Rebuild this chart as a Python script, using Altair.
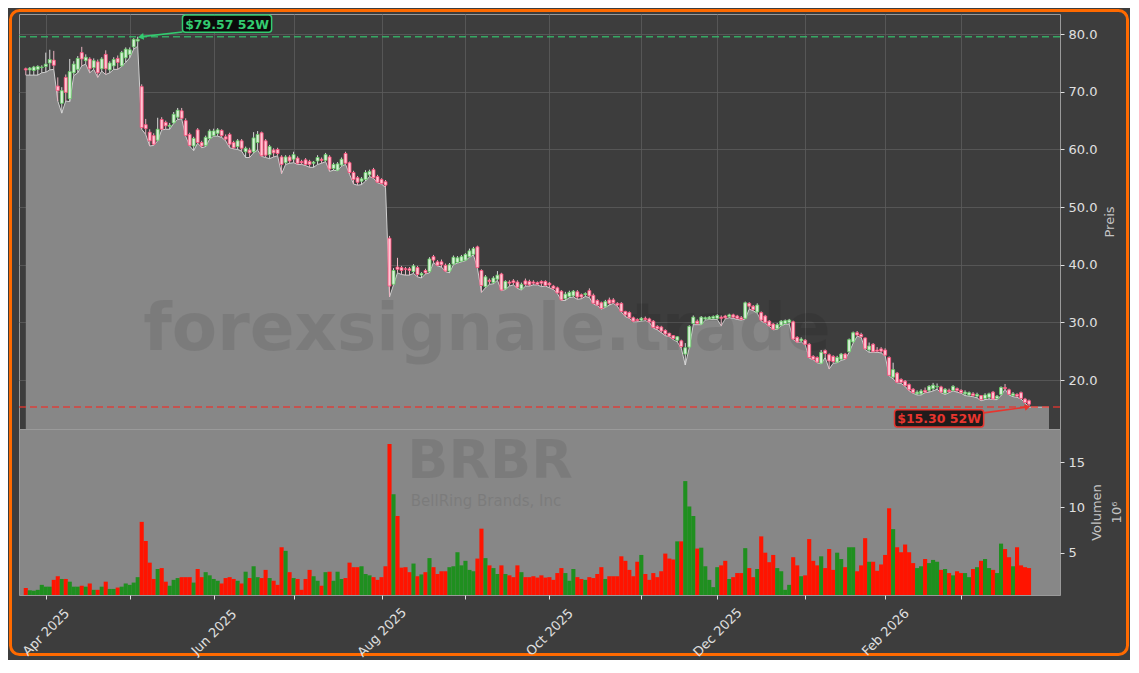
import altair as alt
import pandas as pd

# ---------------- data ----------------
# bar index = trading day, 0 = 1 Apr 2025; first bar is 5 trading days earlier
first_bar = -5

open_ = [
    74.0, 73.8, 73.7, 73.9, 74.2, 74.4, 75.0, 75.5, 71.0, 68.0,
    72.5, 68.8, 73.3, 73.9, 76.8, 75.4, 75.7, 74.2, 75.2, 74.0,
    76.5, 73.8, 74.5, 75.8, 74.5, 75.9, 76.5, 77.8, 78.8, 70.9,
    64.3, 63.0, 62.4, 61.6, 65.2, 64.7, 64.0, 64.6, 65.6, 66.7,
    65.0, 62.6, 60.6, 63.4, 61.2, 60.7, 61.9, 62.4, 62.8, 63.3,
    62.2, 62.6, 61.2, 60.5, 61.5, 59.6, 59.9, 59.6, 61.2, 62.9,
    61.5, 59.1, 59.9, 60.0, 58.7, 57.7, 58.7, 58.3, 58.5, 57.9,
    58.2, 57.9, 57.6, 58.0, 58.3, 58.1, 58.7, 56.7, 56.4, 57.3,
    59.3, 57.7, 56.0, 55.1, 54.5, 54.8, 55.6, 56.5, 55.3, 54.8,
    54.4, 44.6, 36.6, 39.6, 39.5, 39.3, 39.3, 38.8, 39.5, 38.2,
    39.0, 38.8, 41.4, 40.5, 40.5, 39.9, 38.9, 40.1, 40.4, 40.6,
    40.8, 41.4, 41.8, 43.1, 39.0, 36.2, 37.3, 36.9, 37.5, 38.4,
    35.8, 37.0, 37.2, 37.0, 35.8, 37.2, 37.1, 37.0, 36.9, 37.1,
    37.1, 36.8, 36.3, 36.0, 35.4, 34.1, 34.5, 34.6, 35.3, 34.8,
    34.8, 35.5, 34.7, 33.8, 33.4, 32.7, 33.9, 33.9, 33.3, 33.3,
    31.9, 31.7, 30.8, 30.5, 30.4, 30.7, 30.6, 30.2, 29.3, 29.2,
    28.6, 28.1, 27.7, 26.9, 26.8, 24.5, 25.7, 29.8, 30.2, 29.7,
    30.6, 30.6, 30.7, 30.7, 30.9, 31.1, 31.0, 31.3, 31.1, 30.8,
    30.7, 33.3, 32.8, 31.8, 31.7, 31.1, 30.2, 29.7, 28.9, 29.5,
    29.8, 30.0, 30.1, 27.4, 26.8, 26.9, 26.2, 24.1, 23.9, 22.9,
    25.1, 24.4, 24.1, 23.1, 23.6, 24.5, 24.9, 26.6, 28.2, 27.9,
    27.3, 25.2, 26.2, 25.2, 25.4, 25.2, 23.9, 20.5, 21.2, 20.1,
    19.8, 19.2, 18.4, 17.6, 17.6, 18.2, 18.2, 18.5, 18.8, 18.8,
    17.7, 18.2, 18.2, 18.5, 18.2, 17.6, 17.4, 17.6, 17.2, 17.3,
    16.8, 17.0, 17.9, 16.8, 17.5, 18.7, 18.3, 17.3, 17.5, 17.8,
    16.7, 16.4,
]

high = [
    74.2, 74.3, 74.5, 74.6, 74.6, 76.8, 77.3, 77.1, 72.5, 70.8,
    73.0, 75.7, 75.3, 76.2, 77.8, 76.5, 76.0, 75.8, 75.6, 76.0,
    77.2, 75.3, 76.0, 76.3, 77.1, 77.7, 77.7, 79.3, 79.57, 71.3,
    65.3, 63.5, 62.8, 65.5, 65.6, 65.0, 64.6, 66.5, 67.2, 67.2,
    65.4, 62.9, 62.2, 63.7, 61.5, 62.4, 63.5, 63.6, 63.7, 63.5,
    62.6, 62.9, 61.5, 61.8, 61.8, 60.5, 60.3, 63.0, 63.2, 63.1,
    61.8, 60.8, 60.2, 60.3, 59.0, 59.0, 59.0, 59.6, 58.8, 58.2,
    58.5, 58.2, 58.0, 59.0, 58.6, 59.4, 59.0, 57.7, 57.8, 58.6,
    59.6, 57.9, 56.3, 55.4, 55.2, 56.4, 56.5, 56.8, 55.6, 55.0,
    54.7, 45.0, 39.4, 41.2, 39.8, 39.6, 39.6, 40.1, 39.8, 38.7,
    39.3, 41.3, 41.7, 40.8, 40.9, 40.2, 40.3, 41.6, 41.5, 41.7,
    42.0, 42.8, 43.1, 43.3, 39.2, 38.2, 37.6, 38.0, 38.9, 38.6,
    37.3, 37.3, 37.5, 37.3, 36.9, 37.6, 37.4, 37.3, 37.1, 37.3,
    37.3, 37.0, 36.5, 36.2, 35.6, 35.3, 35.5, 35.6, 35.6, 35.0,
    35.2, 35.9, 35.0, 34.0, 33.6, 33.9, 34.3, 34.2, 33.5, 33.5,
    32.0, 31.9, 31.0, 30.7, 30.9, 31.0, 30.8, 30.4, 29.5, 29.4,
    28.8, 28.2, 27.8, 27.6, 27.0, 26.4, 29.5, 31.2, 30.5, 31.1,
    31.0, 31.1, 31.2, 31.4, 31.2, 31.3, 31.5, 31.5, 31.3, 31.1,
    33.6, 33.5, 33.0, 33.3, 31.9, 31.3, 30.4, 29.9, 29.9, 30.4,
    30.5, 30.6, 30.3, 27.6, 27.4, 27.1, 26.4, 24.3, 24.1, 25.2,
    25.3, 24.6, 24.3, 24.2, 24.7, 24.7, 27.2, 28.4, 28.5, 28.2,
    27.4, 26.5, 26.4, 25.7, 25.7, 25.5, 24.1, 23.0, 21.4, 20.3,
    20.0, 19.4, 18.6, 18.2, 18.4, 18.7, 19.1, 19.5, 19.4, 19.0,
    18.6, 18.5, 19.1, 18.7, 18.4, 18.2, 18.0, 17.9, 17.8, 17.4,
    17.7, 17.8, 18.1, 17.4, 18.9, 19.3, 18.5, 17.9, 17.7, 18.0,
    16.9, 16.6,
]

low = [
    72.9, 72.9, 72.9, 72.9, 73.3, 73.4, 73.8, 73.9, 68.4, 66.3,
    68.4, 68.3, 72.8, 73.3, 74.5, 74.8, 73.3, 73.9, 72.5, 73.6,
    73.0, 73.3, 73.9, 73.9, 74.4, 75.1, 75.9, 77.4, 77.9, 63.5,
    62.6, 60.6, 60.7, 61.5, 63.4, 63.5, 63.5, 64.5, 65.2, 65.3,
    62.3, 60.6, 59.8, 61.1, 60.3, 60.5, 61.8, 62.3, 62.3, 62.1,
    61.5, 60.3, 60.1, 60.0, 59.7, 58.6, 58.6, 59.4, 59.9, 58.8,
    58.6, 58.4, 58.7, 58.9, 55.8, 57.4, 57.6, 57.7, 57.4, 57.4,
    57.2, 56.9, 56.9, 57.4, 57.6, 57.9, 56.2, 56.4, 56.3, 57.1,
    57.4, 55.7, 54.0, 53.8, 53.9, 54.5, 55.3, 55.0, 54.2, 54.0,
    53.4, 34.4, 36.5, 38.6, 38.3, 38.2, 38.2, 38.5, 37.9, 37.7,
    38.4, 38.6, 40.4, 39.8, 39.6, 38.8, 38.6, 40.0, 40.3, 40.5,
    40.7, 41.3, 41.7, 39.4, 35.2, 36.0, 36.6, 36.7, 37.3, 35.5,
    35.7, 36.3, 36.5, 35.9, 35.6, 36.3, 36.3, 36.5, 36.5, 36.2,
    36.3, 36.0, 35.7, 35.0, 33.8, 33.8, 34.3, 34.4, 34.0, 34.1,
    34.5, 34.3, 33.2, 32.9, 32.3, 32.6, 33.0, 33.3, 32.8, 31.8,
    31.0, 30.7, 30.1, 30.1, 30.2, 30.3, 30.0, 29.0, 28.7, 28.2,
    27.7, 27.5, 27.0, 26.6, 25.5, 22.6, 25.6, 29.6, 29.6, 29.6,
    30.4, 30.5, 30.5, 30.5, 29.4, 30.6, 30.8, 30.7, 30.5, 30.4,
    30.6, 32.3, 32.0, 31.6, 30.2, 29.9, 29.3, 28.7, 28.8, 29.4,
    29.7, 29.7, 27.0, 26.5, 26.6, 26.1, 23.8, 23.5, 23.0, 22.8,
    23.9, 21.9, 22.9, 23.0, 23.4, 23.6, 24.8, 26.4, 27.6, 27.4,
    25.3, 24.8, 24.8, 24.8, 24.7, 24.2, 20.7, 20.2, 19.5, 19.4,
    18.9, 18.1, 17.7, 17.4, 17.4, 17.8, 17.9, 18.1, 18.4, 17.8,
    17.5, 17.8, 18.1, 17.9, 17.7, 17.3, 17.2, 17.1, 16.9, 16.4,
    16.6, 16.7, 16.6, 16.6, 17.3, 18.4, 17.4, 17.1, 17.0, 16.7,
    16.0, 15.3,
]

close = [
    73.8, 74.1, 74.3, 74.4, 74.3, 74.8, 75.6, 74.6, 70.2, 70.2,
    69.9, 73.5, 74.8, 75.8, 75.7, 76.0, 74.0, 75.4, 73.3, 75.7,
    74.0, 75.0, 75.6, 75.1, 76.8, 77.4, 77.3, 79.1, 79.1, 63.8,
    63.6, 61.5, 60.9, 63.5, 63.5, 64.1, 64.2, 66.1, 66.8, 65.4,
    62.4, 60.7, 61.9, 61.2, 60.6, 62.1, 63.2, 63.2, 63.4, 62.4,
    61.8, 60.9, 60.3, 61.5, 60.2, 60.2, 59.4, 62.0, 62.6, 58.9,
    59.0, 60.5, 59.4, 59.3, 57.4, 58.7, 58.0, 59.1, 57.6, 57.7,
    57.4, 57.4, 57.8, 58.6, 58.1, 59.1, 56.6, 57.4, 57.5, 58.3,
    57.6, 56.0, 54.8, 54.3, 54.9, 56.0, 56.2, 55.1, 54.3, 54.1,
    53.8, 36.3, 39.0, 39.2, 39.0, 39.2, 39.0, 39.8, 38.3, 38.5,
    38.6, 41.0, 40.8, 39.9, 40.0, 38.9, 40.0, 41.3, 41.2, 41.4,
    41.8, 42.4, 42.8, 39.5, 36.4, 37.9, 37.1, 37.7, 38.2, 35.6,
    37.1, 36.8, 36.9, 36.1, 36.6, 36.6, 36.5, 36.8, 36.6, 36.8,
    36.4, 36.5, 35.9, 35.1, 33.9, 34.9, 35.2, 35.4, 34.4, 34.4,
    35.0, 34.6, 33.3, 33.0, 32.4, 33.6, 33.3, 33.4, 33.0, 31.9,
    31.3, 30.8, 30.2, 30.3, 30.7, 30.5, 30.1, 29.1, 28.9, 28.5,
    28.0, 27.6, 27.2, 27.5, 25.8, 25.6, 29.3, 30.9, 29.8, 30.9,
    30.8, 30.9, 31.0, 31.2, 30.7, 30.8, 31.3, 30.9, 30.7, 30.5,
    33.4, 32.8, 32.2, 33.0, 30.4, 30.0, 29.4, 28.8, 29.6, 30.2,
    30.3, 30.4, 27.1, 26.6, 27.1, 26.2, 23.9, 23.6, 23.1, 24.8,
    24.6, 23.3, 23.2, 23.9, 24.5, 23.7, 27.0, 28.2, 27.8, 27.5,
    25.4, 25.9, 24.9, 25.0, 25.0, 24.3, 20.8, 21.8, 19.6, 19.6,
    19.0, 18.3, 17.8, 17.9, 18.1, 17.9, 18.9, 19.1, 18.9, 17.9,
    18.4, 18.0, 18.9, 18.2, 17.8, 17.9, 17.8, 17.3, 17.5, 16.6,
    17.4, 17.6, 16.7, 17.2, 18.7, 18.5, 17.5, 17.6, 17.2, 16.8,
    16.1, 15.8,
]

# volume in millions
volume_m = [
    1.1, 0.85, 0.8, 0.9, 1.45, 1.25, 1.25, 2.0, 2.4, 2.1,
    2.1, 1.8, 1.25, 1.25, 1.35, 1.25, 1.6, 0.9, 0.9, 1.25,
    1.8, 1.0, 1.0, 1.15, 1.25, 1.6, 1.45, 1.7, 2.3, 8.4,
    6.3, 3.9, 2.1, 3.2, 3.3, 1.8, 1.35, 2.0, 2.2, 2.3,
    2.3, 2.3, 1.7, 3.2, 2.3, 2.85, 2.5, 2.1, 1.9, 1.6,
    2.2, 2.3, 2.1, 1.9, 1.6, 2.9, 2.2, 3.5, 2.3, 2.2,
    3.1, 2.2, 1.9, 1.45, 5.6, 5.2, 2.85, 2.2, 2.1, 0.9,
    2.1, 3.1, 2.4, 1.9, 1.35, 2.85, 2.9, 1.9, 2.9, 2.1,
    2.2, 3.9, 3.4, 3.4, 3.5, 2.65, 2.5, 2.3, 2.0, 2.3,
    3.5, 17.0, 11.45, 9.05, 3.35, 3.4, 2.85, 3.8, 2.4, 2.6,
    2.85, 4.4, 3.4, 2.65, 2.95, 2.95, 3.4, 3.5, 5.05, 3.6,
    4.1, 3.1, 2.95, 4.35, 7.65, 4.4, 3.6, 3.3, 2.65, 3.6,
    2.65, 2.5, 2.3, 3.6, 2.85, 2.3, 2.3, 2.4, 2.25, 2.5,
    2.25, 2.3, 2.0, 2.75, 3.3, 2.75, 1.9, 3.2, 2.3, 2.1,
    2.0, 2.3, 2.2, 2.65, 3.4, 2.1, 2.4, 2.4, 2.4, 4.6,
    4.1, 3.1, 2.4, 4.0, 4.75, 2.65, 2.0, 2.75, 2.3, 2.95,
    4.9, 4.35, 4.25, 6.25, 6.25, 12.9, 10.1, 9.05, 5.45, 5.55,
    3.5, 2.0, 1.2, 3.4, 3.6, 4.1, 2.1, 2.3, 2.75, 2.75,
    5.5, 3.3, 2.3, 3.2, 6.8, 5.0, 3.95, 4.75, 3.3, 2.95,
    0.9, 1.45, 4.5, 3.6, 2.4, 2.5, 6.5, 4.1, 3.6, 4.6,
    3.3, 5.4, 3.1, 5.0, 4.3, 3.4, 5.6, 5.6, 2.95, 3.6,
    6.6, 4.0, 4.0, 3.0, 3.7, 4.75, 9.9, 7.6, 5.6, 5.05,
    5.9, 5.05, 3.85, 3.3, 3.5, 4.3, 3.85, 4.2, 4.0, 3.1,
    3.2, 2.75, 2.5, 2.95, 2.75, 2.75, 2.3, 3.2, 3.4, 4.1,
    4.3, 3.3, 3.1, 2.75, 6.0, 5.4, 4.5, 3.5, 5.6, 3.6,
    3.4, 3.3,
]

# month starts (trading-day index) and their labels
month_idx = [0, 21, 42, 62, 84, 105, 126, 149, 168, 190, 210, 229]
month_lbl = ["Apr 2025", "", "Jun 2025", "", "Aug 2025", "", "Oct 2025", "",
             "Dec 2025", "", "Feb 2026", ""]
price_ticks = [20, 30, 40, 50, 60, 70, 80]
vol_ticks = [5, 10, 15]

high_52w = 79.57
low_52w = 15.30
area_tail_k = [251]          # shaded price area continues to here

ticker = "BRBR"
company = "BellRing Brands, Inc"
watermark = "forexsignale.trade"

# ---------------- frames ----------------
n = len(close)
df = pd.DataFrame({
    "k": list(range(first_bar, first_bar + n)),
    "o": open_, "h": high, "l": low, "c": close, "v": volume_m,
})
area_df = pd.concat([df[["k", "l"]],
                     pd.DataFrame({"k": area_tail_k, "l": [low_52w] * len(area_tail_k)})],
                    ignore_index=True)

hi_k = int(df.loc[df["h"].idxmax(), "k"])
lo_k = int(df.loc[df["l"].idxmin(), "k"])

# ---------------- styling ----------------
BG = "#3d3d3d"
AREA = "#878787"
AREA_LINE = "#cfcfcf"
GRID = "#5d5d5d"
UP_FILL, UP_EDGE, UP_WICK = "#d9efd9", "#62cf62", "#d8d8d8"
DN_FILL, DN_EDGE, DN_WICK = "#ffc6d3", "#ff4a78", "#e9b3c0"
VOL_UP, VOL_DN = "#1f8f1f", "#ff1400"
HI_COL, LO_COL = "#33cc70", "#e8352e"

W = 1041
H_PRICE = 415
H_VOL = 166
Y_MIN = 11.5

xs = alt.Scale(domain=[-5.45, 252.5], nice=False, zero=False)
ys = alt.Scale(domain=[Y_MIN, 83.5], nice=False, zero=False)
vs = alt.Scale(domain=[0.33, 18.65], nice=False, zero=False)

up = alt.datum.c >= alt.datum.o

# one axis object per channel, reused by every layer so that they merge cleanly
x_price_axis = alt.Axis(values=month_idx, labels=False, ticks=False, domain=False,
                        grid=True, gridColor=GRID, gridWidth=0.8, title=None)
y_price_axis = alt.Axis(orient="right", values=price_ticks, format=".1f", title="Preis",
                        grid=True, gridColor=GRID, gridWidth=0.8, domain=False,
                        tickSize=4, labelPadding=4, titleAngle=270, titleBaseline="top",
                        titleAlign="center", titleX=43, titleY=H_PRICE / 2)


def PX(field="k"):
    return alt.X(f"{field}:Q", scale=xs, axis=x_price_axis)


def PY(field):
    return alt.Y(f"{field}:Q", scale=ys, axis=y_price_axis)


area = alt.Chart(area_df).mark_area(color=AREA, clip=True).encode(
    x=PX(), y=PY("l"), y2=alt.datum(Y_MIN),
)
area_line = alt.Chart(area_df).mark_line(color=AREA_LINE, strokeWidth=1, clip=True).encode(
    x=PX(), y=PY("l")
)

wm = alt.Chart(pd.DataFrame({"t": [watermark]})).mark_text(
    font="DejaVu Sans", fontWeight="bold", fontSize=66, color="#000000", opacity=0.08,
    align="center", baseline="alphabetic"
).encode(x=alt.value(468), y=alt.value(336), text="t:N")

hi_line = alt.Chart(pd.DataFrame({"p": [high_52w]})).mark_rule(
    color=HI_COL, strokeDash=[7, 4], strokeWidth=1.5, opacity=0.75
).encode(y=PY("p"))
lo_line = alt.Chart(pd.DataFrame({"p": [low_52w]})).mark_rule(
    color=LO_COL, strokeDash=[7, 4], strokeWidth=1.5, opacity=0.85
).encode(y=PY("p"))

wicks = alt.Chart(df).mark_rule(strokeWidth=1).encode(
    x=PX(), y=PY("l"), y2="h:Q",
    color=alt.when(up).then(alt.value(UP_WICK)).otherwise(alt.value(DN_WICK)),
)
bodies = alt.Chart(df).mark_bar(size=3.0, strokeWidth=0.8).encode(
    x=PX(), y=PY("o"), y2="c:Q",
    fill=alt.when(up).then(alt.value(UP_FILL)).otherwise(alt.value(DN_FILL)),
    stroke=alt.when(up).then(alt.value(UP_EDGE)).otherwise(alt.value(DN_EDGE)),
)


def badge(text, kc, pc, col, fill, tip_k, tip_p, start_k, start_p, angle):
    box = pd.DataFrame({"k0": [kc - 11.15], "k1": [kc + 11.15],
                        "p0": [pc - 1.5], "p1": [pc + 1.5], "kc": [kc], "pc": [pc], "t": [text]})
    rect = alt.Chart(box).mark_rect(fill=fill, stroke=col, strokeWidth=1.5, cornerRadius=3,
                                    fillOpacity=0.9).encode(
        x=PX("k0"), x2="k1:Q", y=PY("p0"), y2="p1:Q")
    txt = alt.Chart(box).mark_text(font="DejaVu Sans", fontWeight="bold", fontSize=12.5,
                                   color=col, align="center", baseline="middle", dy=1).encode(
        x=PX("kc"), y=PY("pc"), text="t:N")
    arr = pd.DataFrame({"k": [start_k, tip_k], "p": [start_p, tip_p], "o": [0, 1]})
    shaft = alt.Chart(arr).mark_line(color=col, strokeWidth=1.6).encode(
        x=PX(), y=PY("p"), order="o:Q")
    head = alt.Chart(arr.iloc[[1]]).mark_point(shape="triangle", filled=True, size=45,
                                               color=col, opacity=1, angle=angle).encode(
        x=PX(), y=PY("p"))
    return [shaft, head, rect, txt]


hi_badge = badge(f"${high_52w:.2f} 52W", hi_k + 22.35, high_52w + 2.25, HI_COL, "#050505",
                 hi_k + 1.0, high_52w, hi_k + 11.2, high_52w + 0.8, 262)
lo_badge = badge(f"${low_52w:.2f} 52W", lo_k - 22.5, low_52w - 1.95, LO_COL, "#151010",
                 lo_k - 0.6, low_52w, lo_k - 11.35, low_52w - 1.0, 78)

frame = alt.Chart(pd.DataFrame({"z": [0]})).mark_rect(
    fillOpacity=0, stroke="#ff6a00", strokeWidth=3, cornerRadius=9
).encode(x=alt.value(-8.5), x2=alt.value(1108.5), y=alt.value(-3.5), y2=alt.value(640.5))

price = alt.layer(area, area_line, wm, hi_line, lo_line, wicks, bodies,
                  *hi_badge, *lo_badge, frame).properties(width=W, height=H_PRICE)

# ---------------- volume panel ----------------
lbl_expr = ("[" + ",".join(f"'{s}'" for s in month_lbl) + "][indexof(["
            + ",".join(str(v) for v in month_idx) + "], datum.value)]")

x_vol_axis = alt.Axis(values=month_idx, labelExpr=lbl_expr, labelAngle=315,
                      labelAlign="center", labelBaseline="middle", labelPadding=33,
                      labelOverlap=False, labelFlush=False, tickSize=4, domain=False,
                      grid=False, title=None)
y_vol_axis = alt.Axis(orient="right", values=vol_ticks, format="d", title=["Volumen", "10⁶"],
                      grid=False, domain=False, tickSize=4, labelPadding=4,
                      titleAngle=270, titleBaseline="top", titleAlign="center",
                      titleX=30, titleY=H_VOL / 2, titleLineHeight=20)

vol_bars = alt.Chart(df).mark_bar(size=4.1, clip=True).encode(
    x=alt.X("k:Q", scale=xs, axis=x_vol_axis),
    y=alt.Y("v:Q", scale=vs, axis=y_vol_axis),
    color=alt.when(up).then(alt.value(VOL_UP)).otherwise(alt.value(VOL_DN)),
)
tick_txt = alt.Chart(pd.DataFrame({"t": [ticker]})).mark_text(
    font="DejaVu Sans", fontWeight="bold", fontSize=54, color="#000000", opacity=0.08,
    align="center", baseline="alphabetic"
).encode(x=alt.value(471), y=alt.value(49), text="t:N")
comp_txt = alt.Chart(pd.DataFrame({"t": [company]})).mark_text(
    font="DejaVu Sans", fontSize=15, color="#000000", opacity=0.08,
    align="center", baseline="alphabetic"
).encode(x=alt.value(467), y=alt.value(77), text="t:N")

volume = alt.layer(tick_txt, comp_txt, vol_bars).properties(
    width=W, height=H_VOL, view=alt.ViewBackground(fill=AREA, stroke="#9a9a9a")
)

chart = alt.vconcat(price, volume, spacing=0, bounds="flush").properties(
    background=BG, padding={"left": 0, "top": 0, "right": 0, "bottom": 0}
).configure_view(
    stroke="#9a9a9a", strokeWidth=1
).configure_axis(
    labelFont="DejaVu Sans", titleFont="DejaVu Sans", labelFontSize=13, titleFontSize=13,
    labelColor="#e0e0e0", titleColor="#c4c4c4", titleFontWeight="normal",
    tickColor="#e0e0e0", tickWidth=1
)

chart.save("out.html", embed_options={"renderer": "svg", "actions": False})
